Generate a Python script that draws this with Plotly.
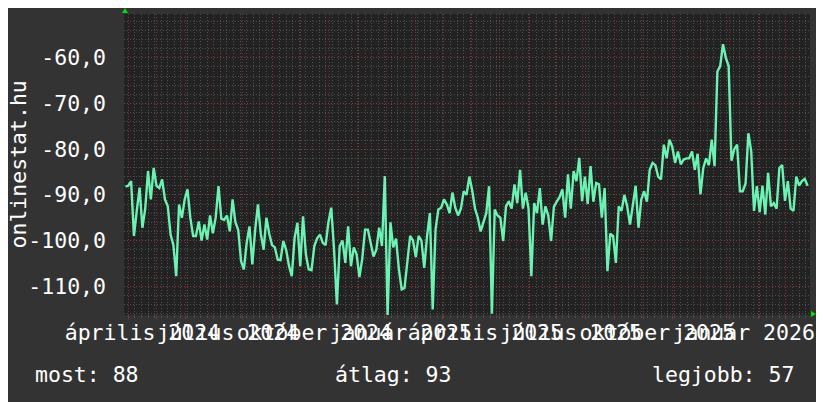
import plotly.graph_objects as go
import pandas as pd

# ---- data ----
start_date = "2024-03-29"   # first sample, 3-day consolidation
rank_values = [
    -88.2, -88, -87, -99, -93.5, -88.4, -97.2, -93, -84.8, -91,
    -84.1, -88, -88.5, -86.6, -91, -92.5, -98.7, -101, -107.8, -92.1,
    -95, -91, -88.8, -95, -99, -99, -95.8, -100, -96.5, -99.8,
    -94.5, -98.4, -95, -88.1, -95.2, -95.5, -94.5, -98, -91, -96,
    -97.7, -104.5, -106.3, -100.5, -96.9, -105.2, -97.7, -92.1, -98.5, -102,
    -95, -98.5, -101, -101.5, -104.2, -104.3, -100.1, -102, -105.5, -107.8,
    -99.4, -96.1, -105.6, -94.7, -103, -106.3, -106.5, -101.2, -99.5, -98.7,
    -100.5, -101, -96, -92.8, -102, -114, -101.2, -100, -104.9, -96.9,
    -105.6, -101.5, -103, -108, -104, -97.6, -97.6, -100.5, -103.5, -102,
    -97.2, -101.2, -85.9, -116.5, -96, -101.5, -99.6, -106.3, -110.7, -110.4,
    -104, -99, -100, -103.6, -99, -100, -106, -99, -94, -115.1,
    -97.6, -93.2, -92.8, -91, -92.1, -94, -89.5, -92.8, -94.5, -93,
    -89.2, -90, -86, -89, -93, -95, -98, -96, -94, -88.1,
    -116, -93.2, -94.5, -95, -100.1, -92.5, -91.4, -93, -87.7, -91.8,
    -84.5, -93, -89.5, -93, -107.8, -91.8, -94, -88.5, -96.5, -92.5,
    -94.5, -100.1, -92.6, -91.5, -90.5, -88.8, -95, -85.5, -93, -84.8,
    -87, -81.9, -91.4, -86, -92, -83.7, -91.5, -87.4, -87.7, -95,
    -88.5, -106.7, -98.5, -99, -104.9, -92.5, -93.5, -90, -92.5, -96.5,
    -91.8, -88, -97.2, -91, -89.2, -91.5, -84.5, -83, -83.5, -86,
    -86.6, -79, -82, -77.9, -79.5, -83, -80.5, -83.3, -82.3, -82,
    -82, -80.5, -84.5, -81, -89.9, -84.1, -82, -83.5, -77.9, -83.7,
    -63, -61.8, -57, -60, -61.8, -82.5, -80, -79, -89.2, -89.2,
    -87.5, -76.5, -80.4, -93.5, -88.1, -93.8, -88, -94.3, -85.2, -92.5,
    -91.8, -93, -84.1, -83.5, -91.3, -87, -93, -93.5, -86, -88,
    -87, -86.5, -88,
]

y_ticks = [-110, -100, -90, -80, -70, -60]
y_range = [-116.3, -50.4]
x_range = ["2024-03-27 10:00", "2026-03-27 14:00"]

label_months = ["2024-04-01", "2024-07-01", "2024-10-01", "2025-01-01",
                "2025-04-01", "2025-07-01", "2025-10-01", "2026-01-01"]
label_texts = ["április 2024", "július 2024", "október 2024", "január 2025",
               "április 2025", "július 2025", "október 2025", "január 2026"]

y_title = "onlinestat.hu"
summary_labels = ["most", "átlag", "legjobb"]
summary_values = [88, 93, 57]

# ---- figure ----
dates = pd.date_range(start_date, periods=len(rank_values), freq="3D")
label_pos = [pd.Timestamp(d) + pd.Timedelta(days=15) for d in label_months]

FONT = "DejaVu Sans Mono"
FS = 21.5
RED = "rgba(150,55,55,0.8)"
GRAY = "rgba(95,95,95,0.75)"
DASH = "1px,2px"

fig = go.Figure()
fig.add_trace(go.Scatter(x=dates, y=rank_values, mode="lines",
                         line=dict(color="#6CF2B2", width=2.4),
                         hoverinfo="skip", xaxis="x", yaxis="y"))
# helper (invisible) trace to carry the label axis
fig.add_trace(go.Scatter(x=dates[:1], y=rank_values[:1], mode="markers",
                         marker=dict(opacity=0), hoverinfo="skip",
                         xaxis="x2", yaxis="y"))

# the page adds an 8px body margin, so the figure is 8px smaller and offset
fig.update_layout(
    width=816, height=394,
    margin=dict(l=116, r=14, t=6, b=87, autoexpand=False),
    paper_bgcolor="#333333", plot_bgcolor="#222222",
    showlegend=False,
    font=dict(family=FONT, size=FS, color="#ffffff"),
    xaxis=dict(type="date", range=x_range, tick0="2024-04-01", dtick="M1",
               automargin=False,
               showgrid=True, gridcolor=RED, griddash=DASH, gridwidth=1,
               showticklabels=False, ticks="outside", ticklen=3, tickcolor=RED,
               zeroline=False, showline=False,
               minor=dict(dtick=7 * 86400000, tick0="2024-04-01", showgrid=True,
                          gridcolor=GRAY, griddash=DASH, gridwidth=1,
                          ticks="outside", ticklen=2, tickcolor=GRAY)),
    xaxis2=dict(type="date", range=x_range, overlaying="x", anchor="y", side="bottom",
                automargin=False,
                tickmode="array", tickvals=label_pos, ticktext=label_texts,
                tickangle=0, showgrid=False, zeroline=False, showline=False,
                ticks="", ticklabelstandoff=2,
                tickfont=dict(family=FONT, size=FS, color="#ffffff")),
    yaxis=dict(range=y_range, tickmode="array", tickvals=y_ticks, automargin=False,
               ticktext=[f"{v:.1f}".replace(".", ",") for v in y_ticks],
               showgrid=True, gridcolor=RED, griddash=DASH, gridwidth=1,
               zeroline=False, showline=False, ticks="", ticklabelstandoff=17,
               tickfont=dict(family=FONT, size=FS, color="#ffffff"),
               minor=dict(tickmode="linear", tick0=0, dtick=2, showgrid=True,
                          gridcolor=GRAY, griddash=DASH, gridwidth=1)),
)

# vertical axis title
fig.add_annotation(text=y_title, textangle=-90, xref="paper", yref="paper",
                   x=-0.1531, y=0.5, xanchor="center", yanchor="middle",
                   showarrow=False, font=dict(family=FONT, size=FS, color="#ffffff"))

# summary line under the chart
summary_x = [-0.1327, 0.3047, 0.7668]
for lab, val, xp in zip(summary_labels, summary_values, summary_x):
    fig.add_annotation(text=f"{lab}: {val}", xref="paper", yref="paper",
                       x=xp, y=-0.199, xanchor="left", yanchor="middle",
                       showarrow=False, font=dict(family=FONT, size=FS, color="#ffffff"))

# axis arrows
fig.add_shape(type="path", xref="paper", yref="paper", xsizemode="pixel", ysizemode="pixel",
              xanchor=0, yanchor=1, path="M -2,1 L 4,1 L 1,6 Z",
              fillcolor="#00E000", line=dict(width=0))
fig.add_shape(type="path", xref="paper", yref="paper", xsizemode="pixel", ysizemode="pixel",
              xanchor=1, yanchor=0, path="M 1,4 L 1,-2 L 6,1 Z",
              fillcolor="#00E000", line=dict(width=0))

fig.write_html("out.html")
